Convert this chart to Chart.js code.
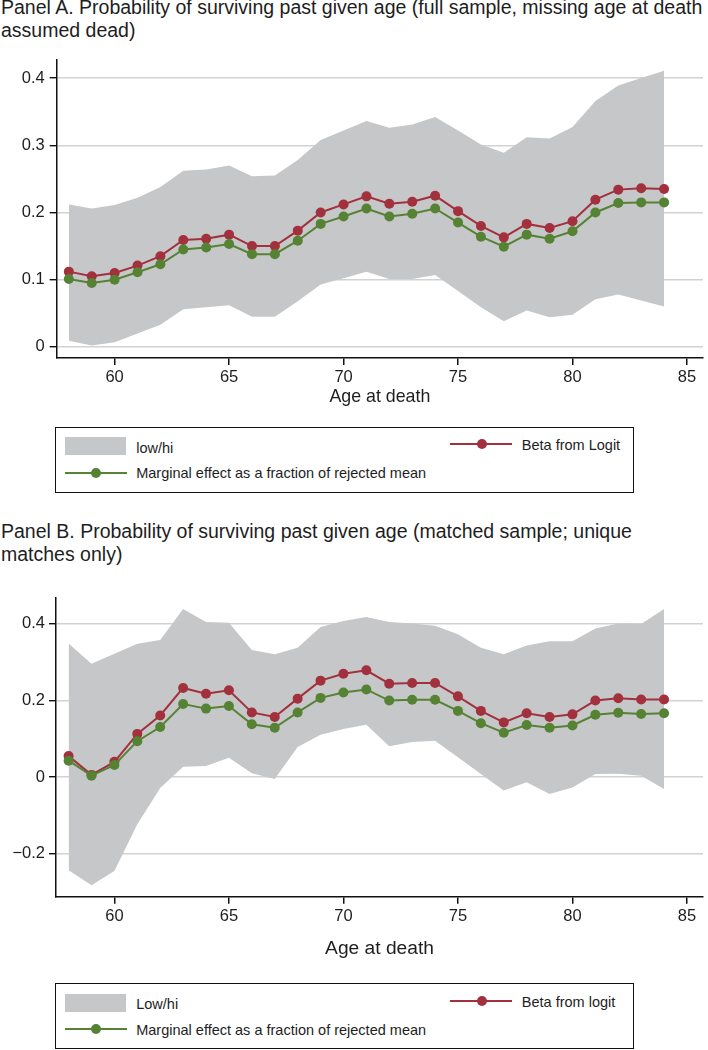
<!DOCTYPE html>
<html>
<head>
<meta charset="utf-8">
<script src="https://cdn.jsdelivr.net/npm/chart.js@4/dist/chart.umd.min.js"></script>
<style>
html,body{margin:0;padding:0;background:#fff;}
body{width:708px;height:1050px;position:relative;overflow:hidden;font-family:"Liberation Sans",Arial,Helvetica,sans-serif;color:#1e1e1e;}
.title{position:absolute;left:1px;font-size:19.5px;line-height:23.5px;white-space:nowrap;}
.cv{position:absolute;left:0;}
.legend{position:absolute;left:55px;width:579px;height:66px;border:1.5px solid #111;box-sizing:border-box;}
.lt{position:absolute;font-size:14.5px;line-height:18px;white-space:nowrap;}
.sw{position:absolute;background:#c6c7c9;}
.ln{position:absolute;height:2px;}
.dt{position:absolute;width:10px;height:10px;border-radius:50%;}
</style>
</head>
<body>
<div class="title" style="top:-4.5px">Panel A. Probability of surviving past given age (full sample, missing age at death<br>assumed dead)</div>
<canvas id="cA" class="cv" width="708" height="370" style="top:45px;width:708px;height:370px"></canvas>
<div class="legend" id="legA" style="top:426.7px"></div>

<div class="title" style="top:519.8px">Panel B. Probability of surviving past given age (matched sample; unique<br>matches only)</div>
<canvas id="cB" class="cv" width="708" height="377" style="top:584px;width:708px;height:377px"></canvas>
<div class="legend" id="legB" style="top:983.3px"></div>

<script>
// ---------- data ----------
const ages = [58,59,60,61,62,63,64,65,66,67,68,69,70,71,72,73,74,75,76,77,78,79,80,81,82,83,84];
const xTicks = [60,65,70,75,80,85];

// Panel A
const aBeta     = [0.112,0.105,0.110,0.121,0.135,0.159,0.161,0.167,0.150,0.150,0.173,0.200,0.212,0.224,0.213,0.216,0.225,0.202,0.180,0.163,0.183,0.177,0.187,0.219,0.234,0.236,0.235];
const aMarginal = [0.101,0.095,0.100,0.111,0.123,0.145,0.148,0.153,0.138,0.138,0.158,0.183,0.194,0.206,0.194,0.198,0.206,0.185,0.164,0.149,0.167,0.161,0.172,0.200,0.214,0.215,0.215];
const aHigh     = [0.212,0.206,0.211,0.222,0.238,0.262,0.264,0.270,0.254,0.255,0.278,0.308,0.322,0.336,0.326,0.331,0.342,0.322,0.301,0.289,0.312,0.310,0.327,0.366,0.389,0.400,0.411];
const aLow      = [0.009,0.002,0.007,0.020,0.033,0.056,0.059,0.062,0.045,0.045,0.068,0.093,0.102,0.112,0.101,0.101,0.107,0.083,0.059,0.038,0.054,0.044,0.048,0.071,0.078,0.069,0.060];
const aYTicks   = [0,0.1,0.2,0.3,0.4];

// Panel B
const bBeta     = [0.055,0.006,0.040,0.113,0.161,0.233,0.218,0.227,0.169,0.157,0.205,0.252,0.270,0.279,0.244,0.246,0.246,0.211,0.173,0.143,0.167,0.157,0.164,0.200,0.206,0.203,0.203];
const bMarginal = [0.043,0.004,0.032,0.094,0.131,0.191,0.179,0.186,0.138,0.129,0.169,0.207,0.221,0.229,0.200,0.202,0.202,0.173,0.141,0.116,0.136,0.129,0.135,0.163,0.168,0.165,0.167];
const bHigh     = [0.349,0.296,0.322,0.348,0.358,0.439,0.405,0.403,0.332,0.321,0.338,0.392,0.408,0.418,0.405,0.401,0.395,0.373,0.338,0.321,0.344,0.355,0.355,0.388,0.401,0.400,0.439];
const bLow      = [-0.243,-0.282,-0.245,-0.123,-0.028,0.027,0.029,0.051,0.010,-0.005,0.079,0.111,0.126,0.137,0.081,0.092,0.095,0.052,0.008,-0.035,-0.013,-0.044,-0.027,0.008,0.009,0.004,-0.031];
const bYTicks   = [-0.2,0,0.2,0.4];

// ---------- style ----------
const RED = '#a2313d', GREEN = '#558233', GRAY = '#c6c7c9', INK = '#1e1e1e', AXIS = '#111111', GRID = '#d2d2d2';
const FONT = '"Liberation Sans", Arial, Helvetica, sans-serif';

function fmt(v){
  const r = Math.round(v*10)/10;
  if (r === 0) return '0';
  return (r < 0 ? '\u2212' : '') + String(Math.abs(r));
}
const pts = arr => ages.map((a,i)=>({x:a, y:arr[i]}));

function makeChart(id, beta, marg, low, high, yTicks, p){
  return new Chart(document.getElementById(id), {
    type:'line',
    data:{datasets:[
      {label:'Marginal effect as a fraction of rejected mean', data:pts(marg), borderColor:GREEN, backgroundColor:GREEN, pointBackgroundColor:GREEN, borderWidth:2, pointRadius:5, pointBorderWidth:0, fill:false, tension:0},
      {label:'Beta from Logit', data:pts(beta), borderColor:RED, backgroundColor:RED, pointBackgroundColor:RED, borderWidth:2, pointRadius:5, pointBorderWidth:0, fill:false, tension:0},
      {label:'hi', data:pts(high), borderWidth:0, borderColor:'rgba(0,0,0,0)', pointRadius:0, backgroundColor:GRAY, fill:'+1', tension:0},
      {label:'low', data:pts(low), borderWidth:0, borderColor:'rgba(0,0,0,0)', pointRadius:0, fill:false, tension:0}
    ]},
    options:{
      responsive:false, animation:false, devicePixelRatio:1,
      layout:{padding:{top:p.padTop, left:0, right:0, bottom:0}},
      plugins:{legend:{display:false}, tooltip:{enabled:false}},
      scales:{
        x:{type:'linear', min:p.xMin, max:p.xMax,
          afterBuildTicks:s=>{s.ticks = xTicks.map(v=>({value:v}));},
          afterFit:s=>{s.height = p.xHeight;},
          border:{color:AXIS, width:1.5},
          grid:{drawOnChartArea:false, drawTicks:true, tickLength:7, tickColor:AXIS, lineWidth:1.5},
          ticks:{color:INK, font:{family:FONT, size:16.5}, padding:p.xTickPad, maxRotation:0, autoSkip:false},
          title:{display:true, text:'Age at death', color:INK, font:{family:FONT, size:p.titleSize}, padding:{top:0, bottom:p.titlePadB}}
        },
        y:{type:'linear', min:p.yMin, max:p.yMax,
          afterBuildTicks:s=>{s.ticks = yTicks.map(v=>({value:v}));},
          afterFit:s=>{s.width = p.yWidth;},
          border:{color:AXIS, width:1.5},
          grid:{color:GRID, lineWidth:1.4, drawTicks:true, tickLength:7, tickColor:AXIS},
          ticks:{color:INK, font:{family:FONT, size:16.5}, padding:p.yTickPad, callback:v=>fmt(v)}
        }
      }
    }
  });
}

makeChart('cA', aBeta, aMarginal, aLow, aHigh, aYTicks,
  {padTop:10, xMin:57.47, xMax:85.7, yMin:-0.0165, yMax:0.427, xHeight:57, yWidth:56.7, xTickPad:3, yTickPad:5, titleSize:17.8, titlePadB:7.6});
makeChart('cB', bBeta, bMarginal, bLow, bHigh, bYTicks,
  {padTop:10, xMin:57.45, xMax:85.7, yMin:-0.312, yMax:0.468, xHeight:64.3, yWidth:56, xTickPad:3, yTickPad:4, titleSize:19.2, titlePadB:0.5});

// ---------- legends ----------
function buildLegend(id, lowLabel, betaLabel){
  const el = document.getElementById(id);
  const b = 1.5;
  const add = (cls, css, text) => {
    const d = document.createElement('div');
    d.className = cls;
    Object.assign(d.style, css);
    if (text) d.textContent = text;
    el.appendChild(d);
  };
  add('sw', {left:(10-b)+'px', top:(11-b)+'px', width:'61.7px', height:'18px'});
  add('lt', {left:(81.7-b)+'px', top:(21.5-9-b)+'px'}, lowLabel);
  add('ln', {left:(10-b)+'px', top:(46.6-1-b)+'px', width:'62px', background:GREEN});
  add('dt', {left:(41.7-5-b)+'px', top:(46.6-5-b)+'px', background:GREEN});
  add('lt', {left:(81.7-b)+'px', top:(46.8-9-b)+'px'}, 'Marginal effect as a fraction of rejected mean');
  add('ln', {left:(395.7-b)+'px', top:(18.3-1-b)+'px', width:'62px', background:RED});
  add('dt', {left:(427.7-5-b)+'px', top:(18.3-5-b)+'px', background:RED});
  add('lt', {left:(467.3-b)+'px', top:(19.3-9-b)+'px'}, betaLabel);
}
buildLegend('legA', 'low/hi', 'Beta from Logit');
buildLegend('legB', 'Low/hi', 'Beta from logit');
</script>
</body>
</html>
